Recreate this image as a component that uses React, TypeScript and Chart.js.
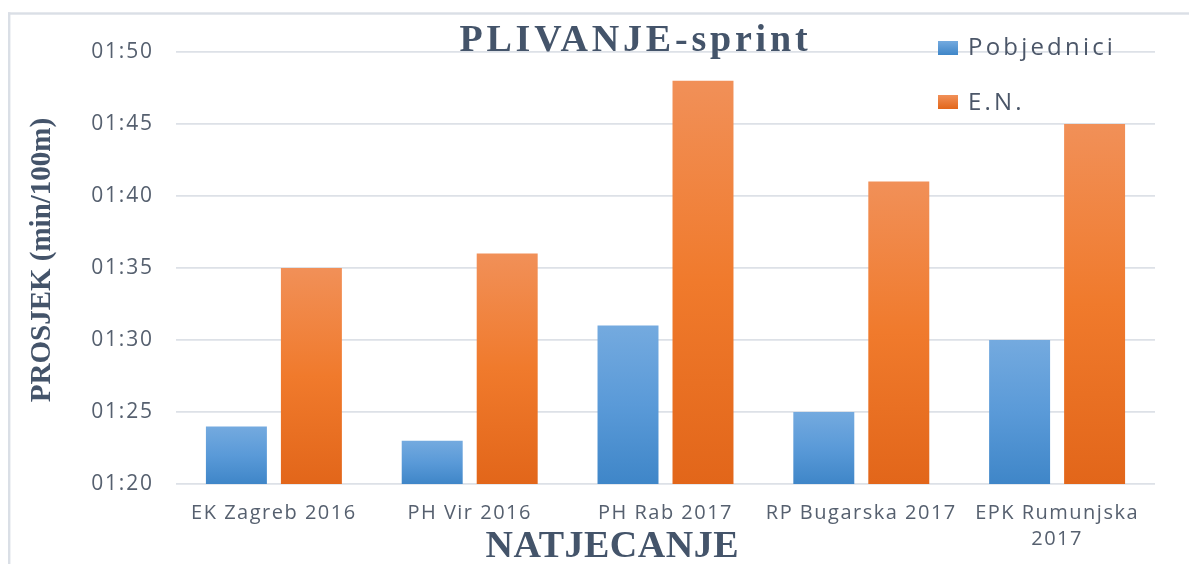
import React, { useEffect, useRef } from 'react';
import { Chart, registerables } from 'chart.js';

Chart.register(...registerables);

const categories: (string | string[])[] = [
  'EK Zagreb 2016',
  'PH Vir 2016',
  'PH Rab 2017',
  'RP Bugarska 2017',
  ['EPK Rumunjska', '2017'],
];
const seriesNames = ['Pobjednici', 'E.N.'];
// seconds per 100m
const pobjednici = [84, 83, 91, 85, 90];
const en = [95, 96, 108, 101, 105];
const yMin = 80;
const yMax = 110;
const yStep = 5;
const chartTitle = 'PLIVANJE-sprint';
const yTitle = 'PROSJEK (min/100m)';
const xTitle = 'NATJECANJE';

const blueStops = ['#74aadf', '#5a9ad8', '#3f86c8'];
const orangeStops = ['#f19058', '#f07a2c', '#e2661a'];
const TEXT = '#44546a';
const TICK = '#56606f';

function fmt(v: number): string {
  const m = Math.floor(v / 60);
  const s = Math.round(v % 60);
  return `${String(m).padStart(2, '0')}:${String(s).padStart(2, '0')}`;
}

function barGradient(stops: string[]) {
  return (ctx: any) => {
    if (ctx.type !== 'data') return stops[1];
    const chart = ctx.chart;
    const { chartArea, scales } = chart;
    if (!chartArea || !scales.y) return stops[1];
    const top = scales.y.getPixelForValue(ctx.raw);
    const bottom = scales.y.getPixelForValue(yMin);
    if (!isFinite(top) || !isFinite(bottom) || Math.abs(bottom - top) < 1) return stops[1];
    const g = chart.ctx.createLinearGradient(0, top, 0, bottom);
    g.addColorStop(0, stops[0]);
    g.addColorStop(0.5, stops[1]);
    g.addColorStop(1, stops[2]);
    return g;
  };
}

const decor = {
  id: 'decor',
  beforeDraw(chart: any) {
    const c = chart.ctx as any;
    c.save();
    c.fillStyle = '#dadfe6';
    c.fillRect(0, 4.3, chart.width, 2.4);
    c.fillRect(0, 4.3, 2.4, chart.height);
    c.restore();
    c.letterSpacing = '1.8px';
  },
  afterDatasetsDraw(chart: any) {
    (chart.ctx as any).letterSpacing = '1.5px';
  },
  afterDraw(chart: any) {
    const c = chart.ctx as any;
    c.save();
    // title
    c.letterSpacing = '3.8px';
    c.fillStyle = TEXT;
    c.font = 'bold 38px "Liberation Serif"';
    c.textAlign = 'center';
    c.textBaseline = 'alphabetic';
    c.fillText(chartTitle, 627.4, 43);
    // x title
    c.letterSpacing = '0.5px';
    c.fillText(xTitle, 604.3, 549);
    // y title
    c.letterSpacing = '0px';
    c.font = 'bold 29px "Liberation Serif"';
    c.save();
    c.translate(42, 252);
    c.rotate(-Math.PI / 2);
    c.fillText(yTitle, 0, 0);
    c.restore();
    // legend
    const legendStops = [blueStops, orangeStops];
    const rowsY = [33, 87];
    const baseY = [47, 102];
    c.textAlign = 'left';
    c.font = '24px "Open Sans"';
    c.letterSpacing = '3.2px';
    seriesNames.forEach((name, i) => {
      const st = legendStops[i];
      const g = c.createLinearGradient(0, rowsY[i], 0, rowsY[i] + 14);
      g.addColorStop(0, st[0]);
      g.addColorStop(1, st[2]);
      c.fillStyle = g;
      c.fillRect(930, rowsY[i], 20, 14);
      c.fillStyle = '#4b5668';
      c.fillText(name, 960, baseY[i]);
    });
    c.restore();
    c.letterSpacing = '0px';
  },
};

export default function App() {
  const ref = useRef<HTMLCanvasElement | null>(null);
  useEffect(() => {
    if (!ref.current) return;
    const chart = new Chart(ref.current, {
      type: 'bar',
      data: {
        labels: categories as any,
        datasets: [
          {
            label: seriesNames[0],
            data: pobjednici,
            backgroundColor: barGradient(blueStops) as any,
            categoryPercentage: 0.766,
            barPercentage: 0.813,
          },
          {
            label: seriesNames[1],
            data: en,
            backgroundColor: barGradient(orangeStops) as any,
            categoryPercentage: 0.766,
            barPercentage: 0.813,
          },
        ],
      },
      options: {
        responsive: false,
        animation: false,
        devicePixelRatio: 1,
        layout: { padding: { top: 44, right: 42, bottom: 0, left: 0 } },
        plugins: {
          legend: { display: false },
          title: { display: false },
          tooltip: { enabled: false },
        },
        scales: {
          x: {
            grid: { display: false },
            border: { display: false },
            ticks: {
              z: 1,
              autoSkip: false,
              maxRotation: 0,
              minRotation: 0,
              padding: 8,
              color: TICK,
              font: { family: '"Open Sans"', size: 20, lineHeight: 26 / 20 },
            },
            afterFit: (s: any) => {
              s.height = 80;
            },
          },
          y: {
            min: yMin,
            max: yMax,
            grid: { color: '#dde1e7', lineWidth: 1.8, drawTicks: false },
            border: { display: false },
            ticks: {
              z: 0,
              stepSize: yStep,
              padding: 22.2,
              color: TICK,
              font: { family: '"Open Sans"', size: 21 },
              callback: (v: any) => fmt(Number(v)),
            },
            afterFit: (s: any) => {
              s.width = 168;
            },
          },
        },
      },
      plugins: [decor],
    });
    return () => chart.destroy();
  }, []);
  return (
    <canvas
      ref={ref}
      width={1189}
      height={556}
      style={{ display: 'block', width: 1189, height: 556 }}
    />
  );
}
